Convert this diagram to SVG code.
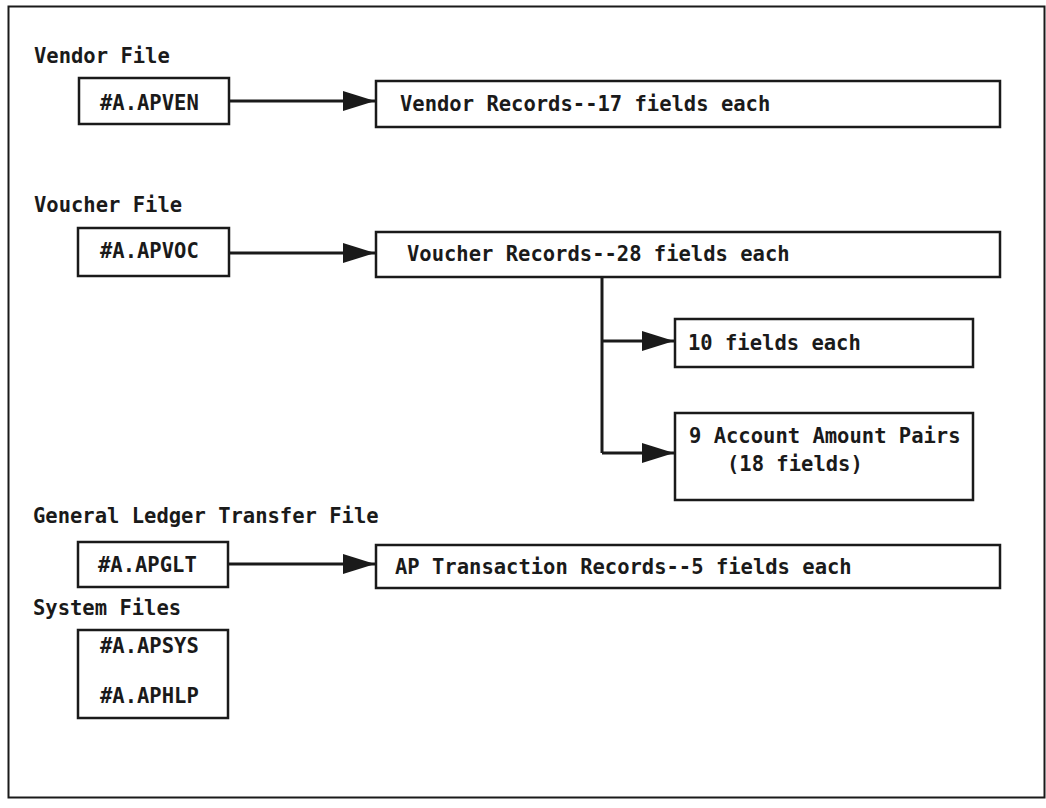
<svg xmlns="http://www.w3.org/2000/svg" width="1046" height="808" viewBox="0 0 1046 808">
<style>
.frame{fill:none;stroke:#1a1a1a;stroke-width:2}
.box{fill:#fff;stroke:#1a1a1a;stroke-width:2.5}
.t{font-family:"DejaVu Sans Mono","Liberation Mono",monospace;font-size:20.5px;font-weight:bold;fill:#1a1a1a}
.c{fill:none;stroke:#1a1a1a;stroke-width:3}
</style>
<defs>
<marker id="ah" viewBox="0 0 32 22" refX="32" refY="11" markerWidth="32" markerHeight="22" markerUnits="userSpaceOnUse" orient="auto">
<path d="M0,1 L32,11 L0,21 Z" fill="#1a1a1a"/>
</marker>
</defs>
<rect class="frame" x="8.5" y="6.5" width="1036" height="791"/>
<g id="labels">
<text class="t" x="34" y="63">Vendor File</text>
<text class="t" x="34" y="212">Voucher File</text>
<text class="t" x="33" y="523">General Ledger Transfer File</text>
<text class="t" x="33" y="615">System Files</text>
</g>
<g id="connectors">
<line class="c" x1="229" y1="101" x2="375" y2="101" marker-end="url(#ah)"/>
<line class="c" x1="229" y1="253" x2="375" y2="253" marker-end="url(#ah)"/>
<polyline class="c" points="602,277 602,453"/>
<line class="c" x1="602" y1="341" x2="674" y2="341" marker-end="url(#ah)"/>
<line class="c" x1="602" y1="453" x2="674" y2="453" marker-end="url(#ah)"/>
<line class="c" x1="228" y1="564" x2="375" y2="564" marker-end="url(#ah)"/>
</g>
<g id="apven">
<rect class="box" x="79" y="78" width="150" height="46"/>
<text class="t" x="100" y="110">#A.APVEN</text>
</g>
<g id="vendor-records">
<rect class="box" x="376" y="81" width="624" height="46"/>
<text class="t" x="400" y="111">Vendor Records--17 fields each</text>
</g>
<g id="apvoc">
<rect class="box" x="78" y="228" width="151" height="48"/>
<text class="t" x="100" y="258">#A.APVOC</text>
</g>
<g id="voucher-records">
<rect class="box" x="376" y="232" width="624" height="45"/>
<text class="t" x="407" y="261">Voucher Records--28 fields each</text>
</g>
<g id="ten-fields">
<rect class="box" x="675" y="319" width="298" height="48"/>
<text class="t" x="688" y="350">10 fields each</text>
</g>
<g id="account-pairs">
<rect class="box" x="675" y="413" width="298" height="87"/>
<text class="t" x="689" y="443">9 Account Amount Pairs</text>
<text class="t" x="727" y="471">(18 fields)</text>
</g>
<g id="apglt">
<rect class="box" x="78" y="542" width="150" height="45"/>
<text class="t" x="98" y="572">#A.APGLT</text>
</g>
<g id="ap-transaction">
<rect class="box" x="376" y="545" width="624" height="43"/>
<text class="t" x="395" y="574">AP Transaction Records--5 fields each</text>
</g>
<g id="system-files">
<rect class="box" x="78" y="630" width="150" height="88"/>
<text class="t" x="100" y="653">#A.APSYS</text>
<text class="t" x="100" y="703">#A.APHLP</text>
</g>
</svg>
